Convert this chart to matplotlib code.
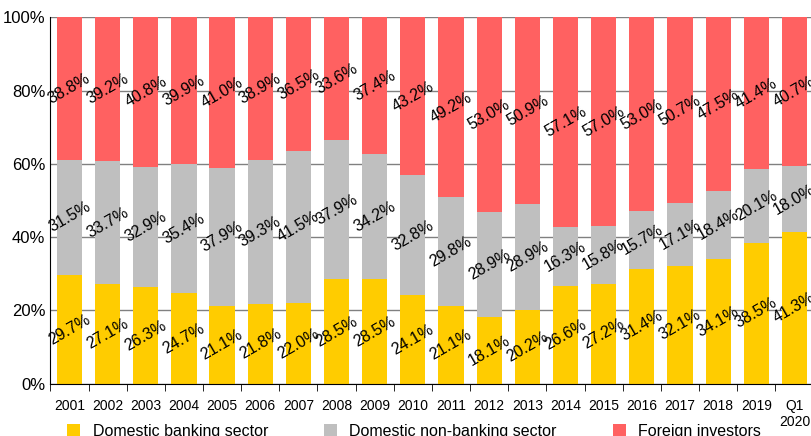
import numpy as np
import matplotlib.pyplot as plt

years = ["2001", "2002", "2003", "2004", "2005", "2006", "2007", "2008", "2009", "2010",
         "2011", "2012", "2013", "2014", "2015", "2016", "2017", "2018", "2019", "Q1\n2020"]
banking = [29.7, 27.1, 26.3, 24.7, 21.1, 21.8, 22.0, 28.5, 28.5, 24.1,
           21.1, 18.1, 20.2, 26.6, 27.2, 31.4, 32.1, 34.1, 38.5, 41.3]
nonbanking = [31.5, 33.7, 32.9, 35.4, 37.9, 39.3, 41.5, 37.9, 34.2, 32.8,
              29.8, 28.9, 28.9, 16.3, 15.8, 15.7, 17.1, 18.4, 20.1, 18.0]
foreign = [38.8, 39.2, 40.8, 39.9, 41.0, 38.9, 36.5, 33.6, 37.4, 43.2,
           49.2, 53.0, 50.9, 57.1, 57.0, 53.0, 50.7, 47.5, 41.4, 40.7]

plt.rcParams['font.family'] = ['Liberation Sans', 'DejaVu Sans']
fig = plt.figure(figsize=(8.12, 4.36), dpi=100)
ax = fig.add_axes([0.062, 0.12, 0.94, 0.84])
x = np.arange(len(years))
b = np.array(banking)
nb = np.array(nonbanking)
f = 100 - b - nb

ax.bar(x, b, 0.66, color="#FFCC00", label="Domestic banking sector", zorder=2)
ax.bar(x, nb, 0.66, bottom=b, color="#BFBFBF", label="Domestic non-banking sector", zorder=2)
ax.bar(x, f, 0.66, bottom=b + nb, color="#FF6161", label="Foreign investors", zorder=2)

for i in range(len(years)):
    for val, y in [(banking[i], b[i] / 2), (nonbanking[i], b[i] + nb[i] / 2),
                   (foreign[i], b[i] + nb[i] + f[i] / 2)]:
        ax.text(x[i], y, f"{val:.1f}%", ha="center", va="center", rotation=30,
                fontsize=11.5, zorder=3, clip_on=False)

ax.set_ylim(0, 100)
ax.set_xlim(-0.5, len(years) - 0.5)
ax.set_yticks(range(0, 101, 20))
ax.set_yticklabels([f"{v}%" for v in range(0, 101, 20)], fontsize=12)
ax.set_xticks(x)
ax.set_xticklabels(years, fontsize=10)
ax.tick_params(axis="x", length=0, pad=11)
ax.tick_params(axis="y", length=0)
ax.set_xticks(np.arange(-0.5, len(years), 1), minor=True)
ax.tick_params(axis="x", which="minor", length=5)
ax.yaxis.grid(True, color="#808080", linewidth=1, zorder=0)
for s in ["top", "right"]:
    ax.spines[s].set_visible(False)
fig.legend(loc="lower center", bbox_to_anchor=(0.51, -0.04), ncol=3, frameon=False,
           fontsize=11.5, handlelength=0.8, handleheight=0.8, columnspacing=3.5)
fig.savefig("out.png")
